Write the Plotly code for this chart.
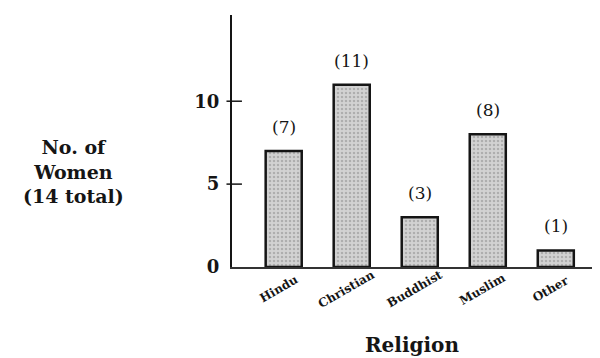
import plotly.graph_objects as go

# data
religions = ["Hindu", "Christian", "Buddhist", "Muslim", "Other"]
counts = [7, 11, 3, 8, 1]
bar_labels = ["(7)", "(11)", "(3)", "(8)", "(1)"]
y_ticks = [0, 5, 10]

SERIF = "DejaVu Serif, Liberation Serif, serif"
INK = "#151515"

fig = go.Figure()
fig.add_trace(go.Bar(
    x=religions,
    y=counts,
    width=0.53,
    marker=dict(
        color="#cccccc",
        line=dict(color=INK, width=2.5),
        pattern=dict(shape=".", fgcolor="#8a8a8a", bgcolor="#d2d2d2", size=4, solidity=0.3),
    ),
    showlegend=False,
))

# value labels above each bar
for name, val, lab in zip(religions, counts, bar_labels):
    fig.add_annotation(x=name, y=val, text=lab, showarrow=False, yshift=24,
                       font=dict(family=SERIF, size=17, color=INK))

# slanted category labels, rotated about their centre like in the scan
for name in religions:
    fig.add_annotation(x=name, y=0, text=name, showarrow=False, textangle=-30,
                       xshift=-5, yshift=-22,
                       font=dict(family=SERIF, size=12, color=INK, weight="bold"))

# tick marks crossing the y axis
for t in y_ticks[1:]:
    fig.add_shape(type="line", xref="paper", yref="y", x0=-0.015, x1=0.027, y0=t, y1=t,
                  line=dict(color=INK, width=1.5))

# y axis title block
fig.add_annotation(xref="paper", yref="paper", x=-0.432, y=0.38, xanchor="center", yanchor="middle",
                   text="<b>No. of<br>Women<br>(14 total)</b>", showarrow=False,
                   font=dict(family=SERIF, size=19, color=INK), align="center")

# x axis title
fig.add_annotation(xref="paper", yref="paper", x=0.489, y=-0.31, xanchor="center", yanchor="middle",
                   text="<b>Religion</b>", showarrow=False,
                   font=dict(family=SERIF, size=20, color=INK))

# page body adds an 8px margin, so the figure is drawn 8px smaller
fig.update_layout(
    width=592, height=350,
    margin=dict(l=224, r=0, t=7, b=91),
    plot_bgcolor="white", paper_bgcolor="white",
    xaxis=dict(
        range=[-0.76, 4.65], automargin=False,
        showline=True, linecolor="#333333", linewidth=2,
        ticks="", showticklabels=False,
        showgrid=False, zeroline=False,
    ),
    yaxis=dict(
        range=[0, 15.2], automargin=False,
        tickvals=y_ticks, ticktext=[str(t) for t in y_ticks],
        showline=True, linecolor=INK, linewidth=2,
        ticks="", ticklabelstandoff=7,
        tickfont=dict(family=SERIF, size=18, color=INK, weight="bold"),
        showgrid=False, zeroline=False,
    ),
)

fig.write_html("out.html")
